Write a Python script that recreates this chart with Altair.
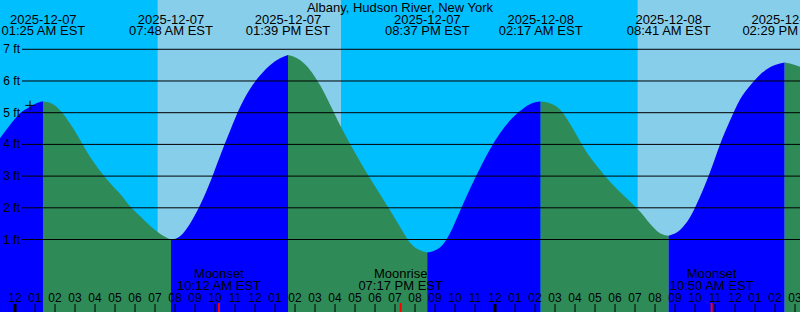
import altair as alt
import pandas as pd

FONT = "Liberation Sans"
TITLE = "Albany, Hudson River, New York"

# hours after 2025-12-07 00:00 EST, water level in ft
t_samples = [-0.75, -0.25, 0.25, 0.75, 1.25,
             1.75, 2.25, 2.75, 3.25, 3.75, 4.25, 4.75, 5.25, 5.75, 6.25, 6.75, 7.25,
             8.25, 8.75, 9.25, 9.75, 10.25, 10.75, 11.25, 11.75, 12.25, 12.75, 13.25,
             14.25, 14.75, 15.25, 15.75, 16.25, 16.75, 17.25, 17.75, 18.25, 18.75, 19.25, 19.75, 20.25,
             21.25, 21.75, 22.25, 22.75, 23.25, 23.75, 24.25, 24.75, 25.25, 25.75,
             26.75, 27.25, 27.75, 28.25, 28.75, 29.25, 29.75, 30.25, 30.75, 31.25, 31.75, 32.25,
             33.25, 33.75, 34.25, 34.75, 35.25, 35.75, 36.25, 36.75, 37.25, 37.75, 38.25,
             38.75, 39.25]
h_samples = [4.19, 4.61, 4.98, 5.19, 5.34,
             5.31, 5.08, 4.66, 4.15, 3.61, 3.17, 2.78, 2.44, 2.05, 1.74, 1.43, 1.18,
             1.10, 1.50, 2.08, 2.80, 3.63, 4.42, 5.17, 5.75, 6.17, 6.50, 6.72,
             6.66, 6.35, 5.87, 5.26, 4.61, 4.02, 3.46, 2.93, 2.43, 1.92, 1.40, 0.90, 0.66,
             0.75, 1.20, 1.90, 2.60, 3.25, 3.85, 4.35, 4.75, 5.05, 5.27,
             5.30, 5.10, 4.65, 4.10, 3.60, 3.20, 2.82, 2.50, 2.20, 1.88, 1.50, 1.20,
             1.30, 1.70, 2.35, 3.12, 4.00, 4.75, 5.42, 5.85, 6.20, 6.43, 6.55,
             6.55, 6.45]

# high / low tides
ext_t = [1.417, 7.8, 13.65, 20.617, 26.283, 32.683, 38.483]
ext_h = [5.35, 0.99, 6.82, 0.59, 5.35, 1.12, 6.58]
ext_date = ["2025-12-07", "2025-12-07", "2025-12-07", "2025-12-07",
            "2025-12-08", "2025-12-08", "2025-12-08"]
ext_time = ["01:25 AM EST", "07:48 AM EST", "01:39 PM EST", "08:37 PM EST",
            "02:17 AM EST", "08:41 AM EST", "02:29 PM EST"]

# daylight periods
day_start = [7.13, 31.13]
day_end = [16.30, 39.25]

# moon events
moon_t = [10.2, 19.283, 34.833]
moon_event = ["Moonset", "Moonrise", "Moonset"]
moon_time = ["10:12 AM EST", "07:17 PM EST", "10:50 AM EST"]

# hour ticks
hour_t = list(range(0, 40))
hour_lbl = ["12", "01", "02", "03", "04", "05", "06", "07", "08", "09", "10", "11",
            "12", "01", "02", "03", "04", "05", "06", "07", "08", "09", "10", "11",
            "12", "01", "02", "03", "04", "05", "06", "07", "08", "09", "10", "11",
            "12", "01", "02", "03"]
midnight_t = [0, 24]

grid_ft = [1, 2, 3, 4, 5, 6, 7]
grid_lbl = ["1 ft", "2 ft", "3 ft", "4 ft", "5 ft", "6 ft", "7 ft"]

now_t = [0.75]
now_h = [5.23]

# ---- build tables ----
rows = []
bounds = [-1e9] + ext_t + [1e9]
for i in range(len(bounds) - 1):
    lo, hi = bounds[i], bounds[i + 1]
    phase = "rise" if i % 2 == 0 else "fall"
    pts = [(t, h) for t, h in zip(t_samples, h_samples) if lo < t < hi]
    if i > 0:
        pts = [(ext_t[i - 1], ext_h[i - 1])] + pts
    if i < len(ext_t):
        pts = pts + [(ext_t[i], ext_h[i])]
    for t, h in pts:
        rows.append({"t": t, "h": h, "seg": i, "phase": phase})
tide = pd.DataFrame(rows)

ext_df = pd.DataFrame({"t": ext_t, "date": ext_date, "time": ext_time})
day_df = pd.DataFrame({"s": day_start, "e": day_end})
moon_df = pd.DataFrame({"t": moon_t, "ev": moon_event, "time": moon_time})
hour_df = pd.DataFrame({"t": hour_t, "lbl": hour_lbl})
hour_df["mid"] = hour_df["t"].isin(midnight_t)
grid_df = pd.DataFrame({"ft": grid_ft, "lbl": grid_lbl})
now_df = pd.DataFrame({"t": now_t, "h": now_h})
title_df = pd.DataFrame({"title": [TITLE]})

xs = alt.Scale(domain=[-0.75, 39.25], nice=False, zero=False)
ys = alt.Scale(domain=[-1.287, 8.555], nice=False, zero=False)
X = lambda f: alt.X(f, scale=xs, axis=None)
Y = lambda f: alt.Y(f, scale=ys, axis=None, stack=None)

day = alt.Chart(day_df).mark_rect(color="#87CEEB").encode(
    x=X("s:Q"), x2="e:Q", y=alt.value(0), y2=alt.value(312))

area = alt.Chart(tide).mark_area(interpolate="monotone").encode(
    x=X("t:Q"), y=Y("h:Q"), y2=alt.value(312),
    color=alt.Color("phase:N", scale=alt.Scale(domain=["rise", "fall"],
                                               range=["#0000FF", "#2E8B57"]), legend=None),
    detail="seg:N")

grid = alt.Chart(grid_df).mark_rule(color="black", strokeWidth=1).encode(
    y=Y("ft:Q"), x=alt.value(22), x2=alt.value(800))

grid_txt = alt.Chart(grid_df).mark_text(align="right", baseline="middle", font=FONT,
                                        fontSize=12, color="black").encode(
    y=Y("ft:Q"), x=alt.value(20), text="lbl:N")

now_mark = alt.Chart(now_df).mark_point(shape="M-1,0H1M0,-1V1", filled=False, color="black",
                                        size=90, strokeWidth=1, opacity=1).encode(
    x=X("t:Q"), y=Y("h:Q"))

title = alt.Chart(title_df).mark_text(align="center", baseline="middle", font=FONT,
                                      fontSize=13, color="black").encode(
    x=alt.value(400), y=alt.value(7.5), text="title:N")

ev_date = alt.Chart(ext_df).mark_text(align="center", baseline="middle", font=FONT,
                                      fontSize=13, color="black").encode(
    x=X("t:Q"), y=alt.value(19.5), text="date:N")
ev_time = alt.Chart(ext_df).mark_text(align="center", baseline="middle", font=FONT,
                                      fontSize=13, color="black").encode(
    x=X("t:Q"), y=alt.value(31.3), text="time:N")

moon_ev = alt.Chart(moon_df).mark_text(align="center", baseline="middle", font=FONT,
                                       fontSize=13, color="black").encode(
    x=X("t:Q"), y=alt.value(273.5), text="ev:N")
moon_tm = alt.Chart(moon_df).mark_text(align="center", baseline="middle", font=FONT,
                                       fontSize=13, color="black").encode(
    x=X("t:Q"), y=alt.value(285.5), text="time:N")

hour_txt = alt.Chart(hour_df).mark_text(align="center", baseline="middle", font=FONT,
                                        fontSize=12, color="black").encode(
    x=X("t:Q"), y=alt.value(297.5), text="lbl:N")
tick = alt.Chart(hour_df).transform_filter("!datum.mid").mark_rule(
    color="black", strokeWidth=1).encode(x=X("t:Q"), y=alt.value(304), y2=alt.value(312))
tick_mid = alt.Chart(hour_df).transform_filter("datum.mid").mark_rule(
    color="black", strokeWidth=3).encode(x=X("t:Q"), y=alt.value(304), y2=alt.value(312))
moon_tick = alt.Chart(moon_df).mark_rule(color="#FF0000", strokeWidth=2).encode(
    x=X("t:Q"), y=alt.value(303), y2=alt.value(312))

chart = alt.layer(day, area, grid, grid_txt, now_mark, title, ev_date, ev_time,
                  moon_ev, moon_tm, hour_txt, tick, tick_mid, moon_tick).properties(
    width=800, height=312, autosize=alt.AutoSizeParams(type="none"),
    padding=0, background="#00BFFF"
).configure_view(stroke=None)

chart.save("out.html", embed_options={"renderer": "svg", "actions": False})
